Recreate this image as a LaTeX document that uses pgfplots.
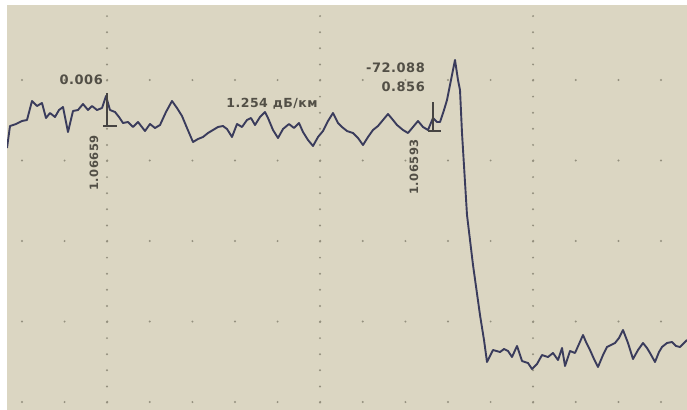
\documentclass[border=0pt]{standalone}
\usepackage{fontspec}
\usepackage{pgfplots}
\pgfplotsset{compat=1.18}
\newfontfamily\lcd[LetterSpace=4]{DejaVu Sans Bold}
\definecolor{paper}{RGB}{219,214,194}
\definecolor{trace}{RGB}{58,60,92}
\definecolor{txt}{RGB}{82,79,70}
\definecolor{dotc}{RGB}{148,144,126}
\definecolor{cur}{RGB}{70,68,66}
\begin{document}
\begin{tikzpicture}
\begin{axis}[
  scale only axis, width=687bp, height=410bp,
  xmin=0, xmax=687, ymin=0, ymax=410, y dir=reverse,
  axis line style={draw=none}, major tick length=0pt,
  xtick={107,320,533}, ytick={80,160.5,241,321.5,402},
  xticklabels={}, yticklabels={},
  xmajorgrids, ymajorgrids,
  x grid style={color=dotc, line width=2.2bp, line cap=round, dash pattern=on 0pt off 16.1bp, dash phase=0bp},
  y grid style={color=dotc, line width=2.2bp, line cap=round, dash pattern=on 0pt off 42.6bp, dash phase=20.6bp},
  axis background/.style={fill=paper},
  clip=true,
]
% trace
\addplot[trace, line width=1.9bp, line join=round] coordinates {
(7,148) (10,126) (16,124) (22,121) (27,120) (32,101) (37,106) (42,103) (46,118) (50,113)
(55,117) (59,110) (63,107) (68,132) (73,111) (78,110) (83,104) (88,110) (92,106) (97,110)
(102,108) (106,96) (110,110) (115,112) (119,117) (123,123) (128,122) (133,127) (138,122) (145,131)
(150,124) (155,128) (160,125) (166,112) (172,101) (177,108) (182,116) (187,128) (193,142) (198,139)
(203,137) (208,133) (213,130) (218,127) (223,126) (227,129) (232,137) (237,124) (242,127) (247,120)
(251,118) (255,125) (260,117) (265,112) (268,118) (273,130) (278,138) (283,129) (289,124) (294,128)
(299,123) (303,132) (308,140) (313,146) (318,137) (323,131) (328,121) (333,113) (338,123) (342,127)
(347,131) (353,133) (358,138) (363,145) (368,137) (373,130) (378,126) (383,120) (388,114) (393,120)
(397,125) (403,130) (408,133) (413,127) (418,121) (423,127) (428,130) (433,118) (437,122) (440,122)
(444,110) (447,100) (451,80) (455,60) (458,80) (460,90) (462,133) (467,215) (473,265) (480,315)
(484,340) (487,362) (493,350) (500,352) (504,349) (508,351) (512,357) (517,346) (522,361) (528,363)
(532,369) (537,364) (542,355) (548,357) (553,353) (558,360) (562,348) (565,366) (570,351) (575,353)
(579,344) (583,335) (586,342) (590,350) (594,359) (598,367) (603,355) (607,347) (611,345) (615,343)
(619,338) (623,330) (628,343) (633,359) (638,350) (643,343) (647,348) (650,353) (655,362) (659,352)
(662,347) (667,343) (672,342) (676,346) (680,347) (684,343) (687,340)
};
% cursors
\addplot[cur, line width=1.4bp] coordinates {(107,93) (107,126)};
\addplot[cur, line width=1.4bp] coordinates {(103,126) (117,126)};
\addplot[cur, line width=1.4bp] coordinates {(433,102) (433,131)};
\addplot[cur, line width=1.4bp] coordinates {(428,131) (441,131)};
% labels
\node[txt, anchor=east, inner sep=0pt, font=\lcd\fontsize{13bp}{15bp}\selectfont] at (axis cs:103,80) {0.006};
\node[txt, rotate=90, inner sep=0pt, font=\lcd\fontsize{11.5bp}{14bp}\selectfont] at (axis cs:94,163) {1.06659};
\node[txt, rotate=90, inner sep=0pt, font=\lcd\fontsize{11.5bp}{14bp}\selectfont] at (axis cs:414,167) {1.06593};
\node[txt, anchor=east, inner sep=0pt, font=\lcd\fontsize{13bp}{15bp}\selectfont] at (axis cs:425,68) {-72.088};
\node[txt, anchor=east, inner sep=0pt, font=\lcd\fontsize{13bp}{15bp}\selectfont] at (axis cs:425,87) {0.856};
\node[txt, inner sep=0pt, font=\lcd\fontsize{12.5bp}{15bp}\selectfont] at (axis cs:272,104) {1.254 дБ/км};
% scan margins
\fill[white] (axis cs:0,0) rectangle (axis cs:7,410);
\fill[white] (axis cs:0,0) rectangle (axis cs:687,5);
\end{axis}
\pgfresetboundingbox
\useasboundingbox (current axis.south west) rectangle (current axis.north east);
\end{tikzpicture}
\end{document}
